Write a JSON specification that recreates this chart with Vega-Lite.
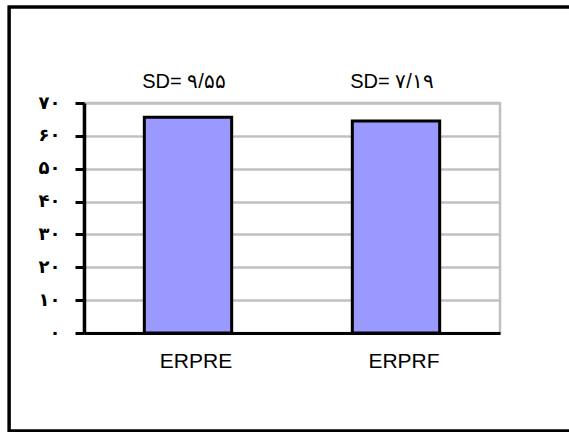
{
  "$schema": "https://vega.github.io/schema/vega-lite/v6.json",
  "width": 416,
  "height": 230,
  "autosize": {"type": "none"},
  "padding": {"left": 84, "top": 103, "right": 69, "bottom": 99},
  "background": "white",
  "config": {
    "view": {"stroke": "#c0c0c0", "strokeWidth": 2.5},
    "font": "Liberation Sans",
    "axisY": {
      "title": null, "tickCount": 8,
      "labelExpr": "['۰','۱۰','۲۰','۳۰','۴۰','۵۰','۶۰','۷۰'][round(datum.value/10)]",
      "labelFontSize": 18, "labelFontWeight": "bold", "labelColor": "black", "labelFont": "DejaVu Sans",
      "labelPadding": 15,
      "tickSize": 9, "tickWidth": 3, "tickColor": "black",
      "domainColor": "black", "domainWidth": 3.5,
      "grid": true, "gridColor": "#c0c0c0", "gridWidth": 2.5
    },
    "axisX": {
      "title": null, "ticks": false, "labelAngle": 0, "grid": false,
      "labelFontSize": 21, "labelColor": "black", "labelFont": "Liberation Sans",
      "labelPadding": 17, "labelOffset": 8,
      "domainColor": "black", "domainWidth": 3
    }
  },
  "data": {
    "values": [
      {"group": "ERPRE", "value": 65.7, "sd": "SD= ۹/۵۵"},
      {"group": "ERPRF", "value": 64.5, "sd": "SD= ۷/۱۹"}
    ]
  },
  "layer": [
    {
      "mark": {"type": "rect", "fill": null, "stroke": "black", "strokeWidth": 3, "clip": false},
      "encoding": {
        "x": {"datum": -0.18, "type": "quantitative", "scale": {"domain": [0, 1]}, "axis": null},
        "x2": {"datum": 1.4},
        "y": {"datum": 99.2, "type": "quantitative", "scale": {"domain": [0, 70], "nice": false}},
        "y2": {"datum": -29.8}
      }
    },
    {
      "layer": [
        {
          "mark": {"type": "bar", "fill": "#9999ff", "stroke": "black", "strokeWidth": 3},
          "encoding": {
            "x": {
              "field": "group", "type": "nominal", "sort": null,
              "scale": {"paddingInner": 0.58, "paddingOuter": 0.29}
            },
            "y": {
              "field": "value", "type": "quantitative",
              "scale": {"domain": [0, 70], "nice": false}
            }
          }
        },
        {
          "mark": {"type": "text", "fontSize": 20, "color": "black", "baseline": "middle", "dy": -21, "dx": -4, "font": "Liberation Sans"},
          "encoding": {
            "x": {"field": "group", "type": "nominal", "sort": null},
            "y": {"datum": 70, "type": "quantitative"},
            "text": {"field": "sd"}
          }
        }
      ]
    }
  ],
  "resolve": {"scale": {"x": "independent"}}
}
